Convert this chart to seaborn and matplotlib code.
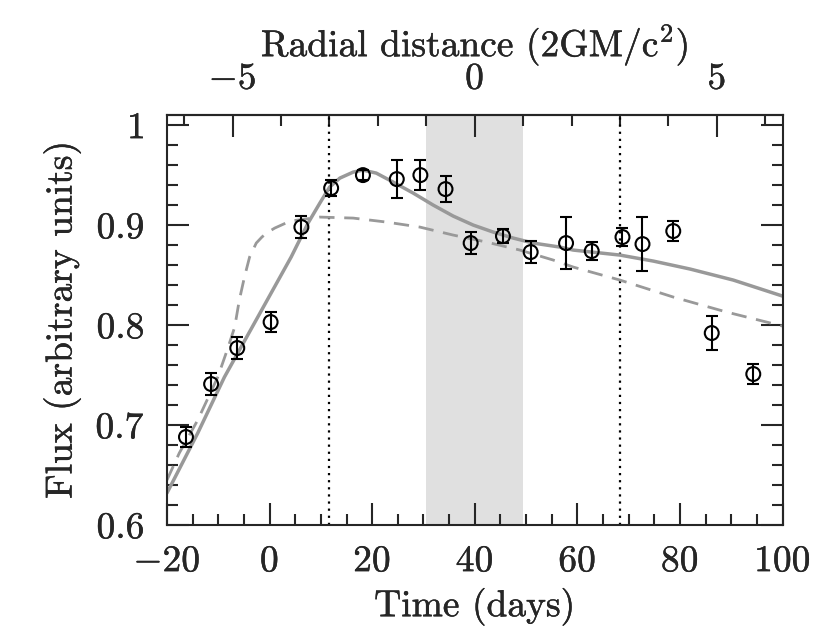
import numpy as np
import pandas as pd
import seaborn as sns
import matplotlib
matplotlib.use("Agg")
import matplotlib.pyplot as plt
import matplotlib.patheffects as pe
from matplotlib.ticker import MultipleLocator, FuncFormatter

# observed light curve
time_days = [-16.3, -11.4, -6.3, 0.2, 6.2, 12.0, 18.2, 24.8, 29.4, 34.3,
             39.2, 45.5, 50.9, 57.8, 62.8, 68.8, 72.7, 78.7, 86.2, 94.3]
flux = [0.688, 0.741, 0.777, 0.803, 0.898, 0.937, 0.950, 0.946, 0.950, 0.936,
        0.882, 0.889, 0.873, 0.882, 0.874, 0.888, 0.881, 0.894, 0.792, 0.751]
flux_err = [0.010, 0.011, 0.011, 0.010, 0.011, 0.008, 0.005, 0.019, 0.015, 0.013,
            0.011, 0.007, 0.011, 0.026, 0.009, 0.009, 0.027, 0.010, 0.017, 0.010]

# model curves
solid_t = [-20, -14, -8.8, -6.2, -2.3, 0.3, 4.2, 7.5, 9.8, 11.7, 13.7, 16.3, 18.2,
           20.8, 24.1, 28, 31.9, 35.8, 39.7, 43.6, 47.5, 51.4, 56.6, 59.2, 68.3,
           74.8, 82, 90.4, 100]
solid_f = [0.632, 0.692, 0.748, 0.772, 0.808, 0.832, 0.868, 0.902, 0.922, 0.938,
           0.947, 0.953, 0.955, 0.952, 0.943, 0.932, 0.920, 0.909, 0.900, 0.893,
           0.887, 0.882, 0.878, 0.875, 0.870, 0.864, 0.856, 0.845, 0.829]
dashed_t = [-20, -17.6, -14, -10.1, -8.4, -6.8, -5.9, -4.9, -3.9, -2.6, -1.5, -0.6,
            1, 2.3, 4, 5.5, 9.8, 16.3, 22.8, 29.3, 35.8, 42.3, 48.8, 55.3, 59.2,
            68.3, 78.7, 89.1, 100]
dashed_f = [0.645, 0.672, 0.705, 0.748, 0.773, 0.798, 0.825, 0.848, 0.868, 0.882,
            0.888, 0.892, 0.897, 0.900, 0.904, 0.905, 0.908, 0.907, 0.903, 0.898,
            0.890, 0.883, 0.875, 0.865, 0.858, 0.845, 0.828, 0.813, 0.799]

# radial distance mapping (days <-> 2GM/c^2)
t_center = 40.0
days_per_unit = 9.44
shade_r = (-1, 1)
dotted_r = [-3, 3]

sns.set_style("ticks")
plt.rcParams["font.family"] = ["cmr10"]
plt.rcParams["mathtext.fontset"] = "cm"
plt.rcParams["axes.unicode_minus"] = False
plt.rcParams["axes.linewidth"] = 1.5

obs = pd.DataFrame({"t": time_days, "f": flux, "e": flux_err})
sol = pd.DataFrame({"t": solid_t, "f": solid_f})
das = pd.DataFrame({"t": dashed_t, "f": dashed_f})

fig = plt.figure(figsize=(8.3, 6.41), dpi=100)
ax = fig.add_axes([0.2012, 0.181, 0.7416, 0.6394])

to_t = lambda r: np.asarray(r) * days_per_unit + t_center
to_r = lambda t: (np.asarray(t) - t_center) / days_per_unit

ax.axvspan(to_t(shade_r[0]), to_t(shade_r[1]), color="#e0e0e0", lw=0, zorder=0)
for r in dotted_r:
    ax.axvline(to_t(r), color="black", lw=1.6, ls=(0, (1, 2.2)), zorder=1)

sns.lineplot(data=sol, x="t", y="f", ax=ax, color="#999999", lw=2.5, sort=False, zorder=2)
sns.lineplot(data=das, x="t", y="f", ax=ax, color="#999999", lw=2.0, sort=False, zorder=2)
ax.lines[-1].set_dashes((5.5, 3.5))

ax.errorbar(obs["t"], obs["f"], yerr=obs["e"], fmt="none", ecolor="black",
            elinewidth=1.5, capsize=4.5, capthick=1.5, zorder=3)
sns.scatterplot(data=obs, x="t", y="f", ax=ax, marker="o", s=100,
                facecolor="none", edgecolor="black", linewidth=1.5, zorder=4)

ax.set_xlim(-20, 100)
ax.set_ylim(0.6, 1.01)
fmt = FuncFormatter(lambda v, p: f"${v:g}$")
ax.xaxis.set_major_locator(MultipleLocator(20))
ax.xaxis.set_minor_locator(MultipleLocator(5))
ax.yaxis.set_major_locator(MultipleLocator(0.1))
ax.yaxis.set_minor_locator(MultipleLocator(0.02))
ax.xaxis.set_major_formatter(fmt)
ax.yaxis.set_major_formatter(fmt)
ax.tick_params(which="both", direction="in", top=False, right=True, width=1.5,
               labelsize=27)
ax.tick_params(which="major", length=16)
ax.tick_params(which="minor", length=8)
ax.tick_params(axis="x", which="major", pad=14.4)
ax.tick_params(axis="y", which="major", pad=16)

ax.set_xlabel("Time (days)", fontsize=27)
ax.xaxis.set_label_coords(0.5, -0.152)
ax.set_ylabel("Flux (arbitrary units)", fontsize=27)
ax.yaxis.set_label_coords(-0.139, 0.5)

sec = ax.secondary_xaxis("top", functions=(to_r, to_t))
sec.xaxis.set_major_locator(MultipleLocator(5))
sec.xaxis.set_minor_locator(MultipleLocator(1))
sec.xaxis.set_major_formatter(fmt)
sec.tick_params(which="both", direction="in", width=1.5, labelsize=27)
sec.tick_params(which="major", length=16, pad=14)
sec.tick_params(which="minor", length=8)
sec.spines["top"].set_linewidth(1.5)
sec.set_xlabel("Radial distance (2GM/c$^2$)", fontsize=27, labelpad=4.5)

# slightly heavier strokes for the text, like the original plotting font
bold = [pe.withStroke(linewidth=0.25, foreground="black")]
for t in (ax.get_xticklabels() + ax.get_yticklabels() + sec.get_xticklabels()
          + [ax.xaxis.label, ax.yaxis.label, sec.xaxis.label]):
    t.set_path_effects(bold)

fig.savefig("out.png", dpi=100)
